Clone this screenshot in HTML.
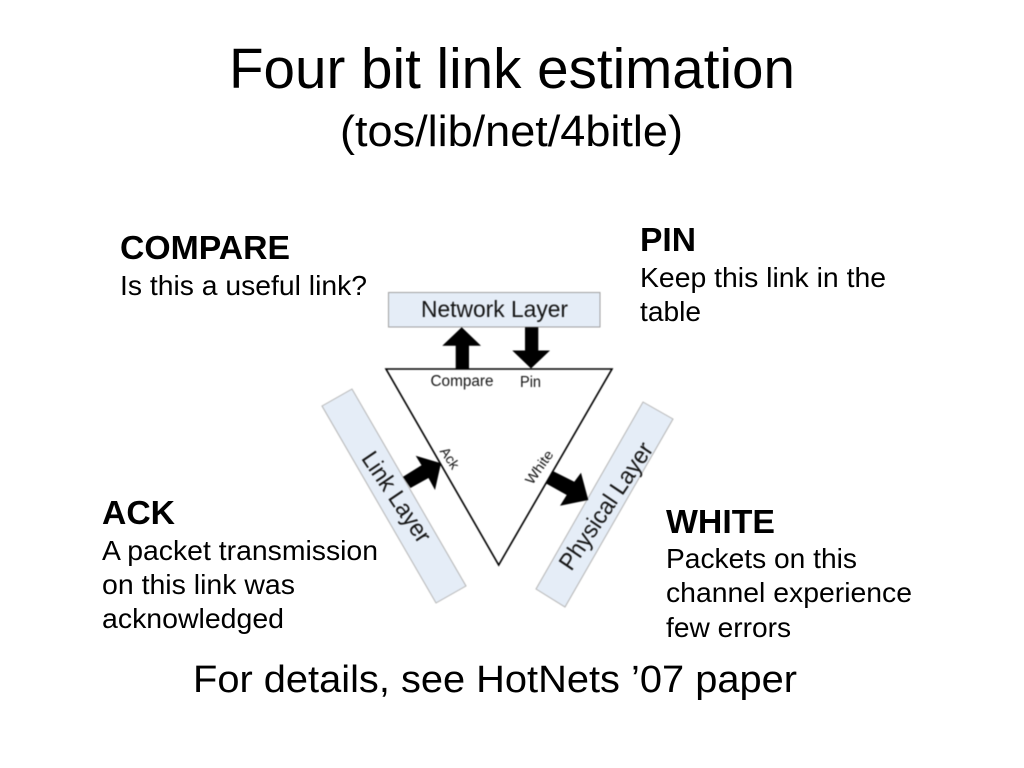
<!DOCTYPE html>
<html>
<head>
<meta charset="utf-8">
<title>Four bit link estimation</title>
<style>
html,body{margin:0;padding:0;background:#fff;width:1024px;height:768px;overflow:hidden}
svg{display:block;font-family:"Liberation Sans",Arial,sans-serif}
.b{font-weight:bold;font-size:33px}
.t{font-size:28px}
.d{fill:#141414}
.g{filter:blur(.45px)}
</style>
</head>
<body>
<svg width="1024" height="768" viewBox="0 0 1024 768" xmlns="http://www.w3.org/2000/svg">
<text x="229" y="88" font-size="57" textLength="566" lengthAdjust="spacingAndGlyphs">Four bit link estimation</text>
<text x="340" y="146" font-size="44" textLength="343" lengthAdjust="spacingAndGlyphs">(tos/lib/net/4bitle)</text>

<text class="b" x="120" y="259" textLength="170" lengthAdjust="spacingAndGlyphs">COMPARE</text>
<text class="t" x="120" y="295" textLength="247" lengthAdjust="spacingAndGlyphs">Is this a useful link?</text>

<text class="b" x="640" y="251" textLength="56" lengthAdjust="spacingAndGlyphs">PIN</text>
<text class="t" x="640" y="287" textLength="246" lengthAdjust="spacingAndGlyphs">Keep this link in the</text>
<text class="t" x="640" y="321" textLength="61" lengthAdjust="spacingAndGlyphs">table</text>

<text class="b" x="102" y="524" textLength="73" lengthAdjust="spacingAndGlyphs">ACK</text>
<text class="t" x="102" y="560" textLength="276" lengthAdjust="spacingAndGlyphs">A packet transmission</text>
<text class="t" x="102" y="594" textLength="193" lengthAdjust="spacingAndGlyphs">on this link was</text>
<text class="t" x="102" y="628" textLength="182" lengthAdjust="spacingAndGlyphs">acknowledged</text>

<text class="b" x="666" y="533" textLength="109" lengthAdjust="spacingAndGlyphs">WHITE</text>
<text class="t" x="666" y="568" textLength="191" lengthAdjust="spacingAndGlyphs">Packets on this</text>
<text class="t" x="666" y="602" textLength="246" lengthAdjust="spacingAndGlyphs">channel experience</text>
<text class="t" x="666" y="637" textLength="125" lengthAdjust="spacingAndGlyphs">few errors</text>

<text x="193" y="692" font-size="38" textLength="604" lengthAdjust="spacingAndGlyphs">For details, see HotNets ’07 paper</text>

<g class="g">
<!-- layer boxes -->
<rect x="388.5" y="292.5" width="211.5" height="34.5" fill="#e5edf7" stroke="#a0a0a0" stroke-width="1"/>
<polygon points="322,406 352,389 466,586 436,603" fill="#e5edf7" stroke="#b5b5b5" stroke-width="1"/>
<polygon points="643,402 673,419 565,607 536,589" fill="#e5edf7" stroke="#b5b5b5" stroke-width="1"/>

<!-- triangle -->
<polygon points="386,369 612,369 498.7,565" fill="#fff" stroke="#000" stroke-width="1.6" stroke-linejoin="miter"/>

<!-- arrows -->
<polygon points="461.7,327.3 481,345.7 469,345.7 469,368.5 455.7,368.5 455.7,345.7 442.3,345.7" fill="#000"/>
<polygon points="525,327.3 538.3,327.3 538.3,350.5 550,350.5 531,368.5 512.3,350.5 525,350.5" fill="#000"/>
<polygon points="441,463.3 435,490 428.5,478 410.5,488 403,476.7 421.5,465.2 415.7,455.7" fill="#000"/>
<polygon points="552.3,470.7 574.3,481.7 581,472.7 588.3,500 560,505.7 566.7,495 545.7,483.3" fill="#000"/>

<!-- diagram labels -->
<text class="d" x="421" y="317" font-size="23" textLength="147" lengthAdjust="spacingAndGlyphs">Network Layer</text>
<text class="d" x="430.5" y="386" font-size="15.5" textLength="63" lengthAdjust="spacingAndGlyphs">Compare</text>
<text class="d" x="520" y="387" font-size="15.5" textLength="21" lengthAdjust="spacingAndGlyphs">Pin</text>
<text class="d" transform="translate(396.5,497) rotate(56)" y="8" font-size="24" text-anchor="middle" textLength="104" lengthAdjust="spacingAndGlyphs">Link Layer</text>
<text class="d" transform="translate(606,506) rotate(-56)" y="8" font-size="24" text-anchor="middle" textLength="148" lengthAdjust="spacingAndGlyphs">Physical Layer</text>
<text class="d" transform="translate(450,458) rotate(56)" y="5" font-size="14" text-anchor="middle" textLength="23" lengthAdjust="spacingAndGlyphs">Ack</text>
<text class="d" transform="translate(539,467) rotate(-55)" y="5" font-size="14" text-anchor="middle" textLength="38" lengthAdjust="spacingAndGlyphs">White</text>
</g>
</svg>
</body>
</html>
